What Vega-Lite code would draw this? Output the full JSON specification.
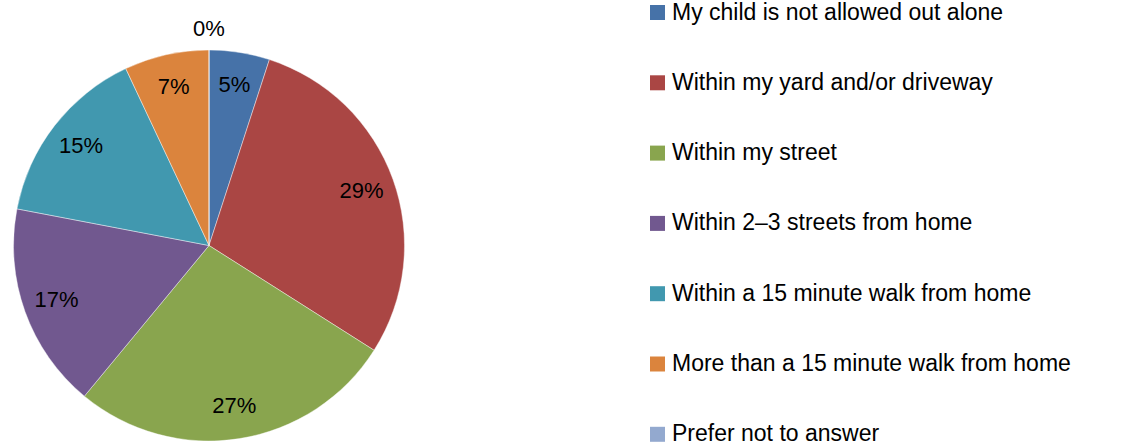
{
  "$schema": "https://vega.github.io/schema/vega-lite/v6.json",
  "width": 418,
  "height": 443,
  "padding": {"left": 0, "top": 1, "right": 0, "bottom": 0},
  "background": "white",
  "config": {"view": {"stroke": null}, "font": "Liberation Sans"},
  "data": {
    "values": [
      {"category": "My child is not allowed out alone", "value": 0.05, "order": 1},
      {"category": "Within my yard and/or driveway", "value": 0.29, "order": 2},
      {"category": "Within my street", "value": 0.27, "order": 3},
      {"category": "Within 2–3 streets from home", "value": 0.17, "order": 4},
      {"category": "Within a 15 minute walk from home", "value": 0.15, "order": 5},
      {"category": "More than a 15 minute walk from home", "value": 0.07, "order": 6},
      {"category": "Prefer not to answer", "value": 0, "order": 7}
    ]
  },
  "encoding": {
    "theta": {"field": "value", "type": "quantitative", "stack": true},
    "order": {"field": "order", "type": "quantitative"}
  },
  "layer": [
    {
      "mark": {"type": "arc", "outerRadius": 195.5, "stroke": "#ffffff", "strokeWidth": 0.6, "strokeOpacity": 0.7},
      "encoding": {
        "color": {
          "field": "category",
          "type": "nominal",
          "sort": {"field": "order"},
          "scale": {
            "domain": [
              "My child is not allowed out alone",
              "Within my yard and/or driveway",
              "Within my street",
              "Within 2–3 streets from home",
              "Within a 15 minute walk from home",
              "More than a 15 minute walk from home",
              "Prefer not to answer"
            ],
            "range": ["#4672A8", "#AA4644", "#89A54E", "#71588F", "#4198AF", "#DB843D", "#93A9CF"]
          },
          "legend": {
            "title": null,
            "orient": "none",
            "legendX": 646,
            "legendY": -23,
            "symbolType": "square",
            "symbolSize": 225,
            "symbolStrokeWidth": 0,
            "labelFontSize": 23,
            "labelFont": "Liberation Sans",
            "labelColor": "#000000",
            "labelLimit": 600,
            "labelOffset": 3,
            "rowPadding": 46.3
          }
        }
      }
    },
    {
      "transform": [{"filter": "datum.value > 0"}],
      "mark": {"type": "text", "radius": 162, "fontSize": 22, "font": "Liberation Sans", "color": "#000000"},
      "encoding": {"text": {"field": "value", "type": "quantitative", "format": ".0%"}}
    },
    {
      "transform": [{"filter": "datum.value == 0"}],
      "mark": {"type": "text", "radius": 217, "fontSize": 22, "font": "Liberation Sans", "color": "#000000"},
      "encoding": {"text": {"field": "value", "type": "quantitative", "format": ".0%"}}
    }
  ]
}
